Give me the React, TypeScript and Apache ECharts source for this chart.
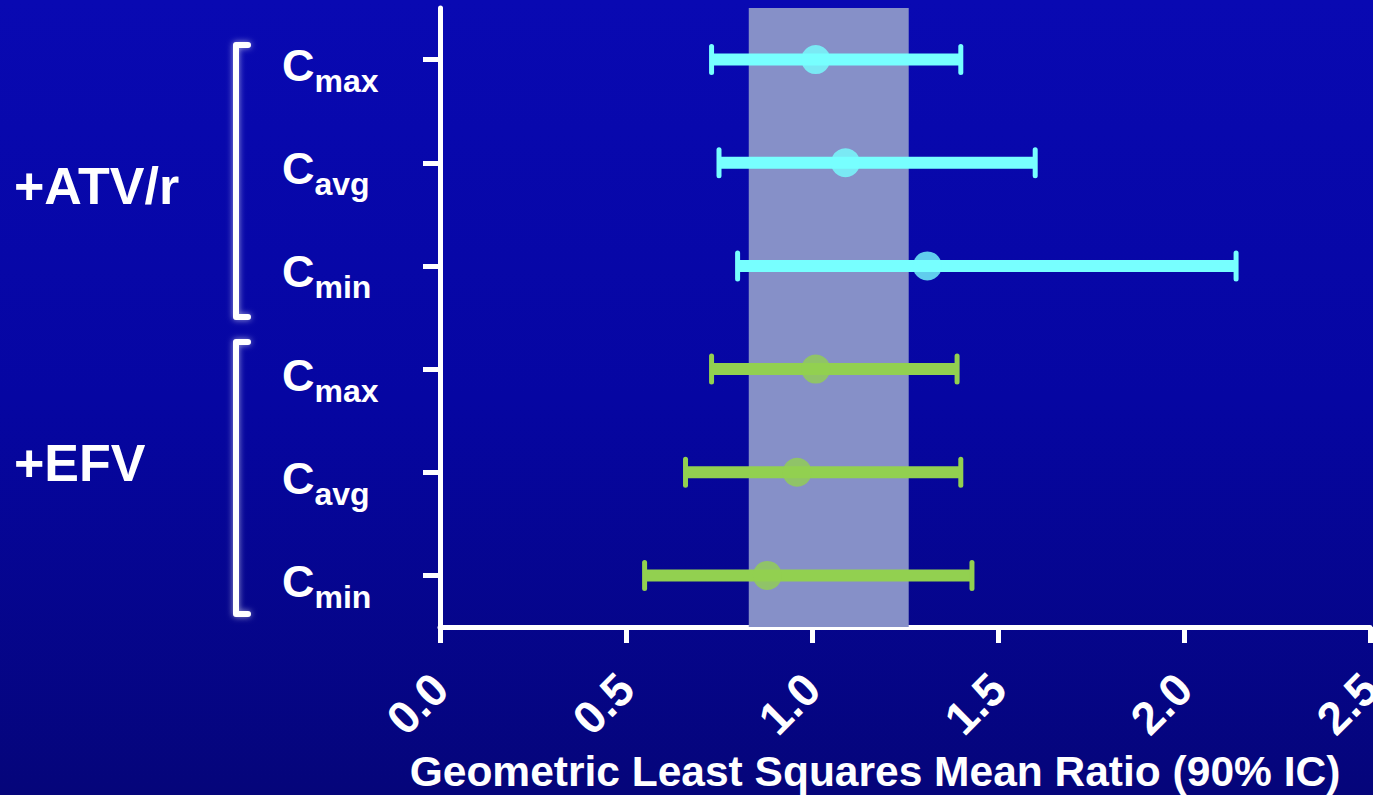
import React, { useEffect, useRef } from "react";
import * as echarts from "echarts";

const categories = ["ATV Cmax", "ATV Cavg", "ATV Cmin", "EFV Cmax", "EFV Cavg", "EFV Cmin"];
const subscripts = ["max", "avg", "min", "max", "avg", "min"];
const groups = ["ATV", "ATV", "ATV", "EFV", "EFV", "EFV"];
const means = [1.01, 1.09, 1.31, 1.01, 0.96, 0.88];
const lows = [0.73, 0.75, 0.8, 0.73, 0.66, 0.55];
const highs = [1.4, 1.6, 2.14, 1.39, 1.4, 1.43];
const xTicks = [0, 0.5, 1.0, 1.5, 2.0, 2.5];
const bandRange = [0.83, 1.26];
const groupLabels = ["+ATV/r", "+EFV"];

const FONT = "'Liberation Sans', Arial, Helvetica, sans-serif";
const groupColor: Record<string, string> = { ATV: "#77ffff", EFV: "#92d050" };

export default function App() {
  const ref = useRef<HTMLDivElement>(null);
  useEffect(() => {
    document.body.style.margin = "0";
    const chart = echarts.init(ref.current!, null, { renderer: "svg" });
    const barData = categories.map((c, i) => [lows[i], highs[i], i]);
    const meanData = categories.map((c, i) => ({
      value: [means[i], i],
      itemStyle: { color: groupColor[groups[i]] },
    }));
    const bracketStyle = {
      stroke: "#ffffff",
      lineWidth: 6,
      fill: null,
      lineJoin: "round",
      lineCap: "round",
      shadowBlur: 6,
      shadowColor: "rgba(255,255,255,0.6)",
    };
    chart.setOption({
      animation: false,
      backgroundColor: "transparent",
      grid: { left: 440, right: 3, top: 8, bottom: 168, containLabel: false, outerBoundsMode: "none" },
      xAxis: {
        type: "value",
        min: xTicks[0],
        max: xTicks[xTicks.length - 1],
        interval: 0.5,
        splitLine: { show: false },
        axisLine: { show: true, lineStyle: { color: "#ffffff", width: 5 } },
        axisTick: { show: true, length: 16, lineStyle: { color: "#ffffff", width: 5 } },
        axisLabel: {
          rotate: 45,
          margin: 54,
          color: "#ffffff",
          fontSize: 46,
          fontWeight: "bold",
          fontFamily: FONT,
          hideOverlap: false,
          formatter: (v: number) => v.toFixed(1),
        },
        name: "Geometric Least Squares Mean Ratio (90% IC)",
        nameLocation: "middle",
        nameGap: 122,
        nameTextStyle: {
          color: "#ffffff",
          fontSize: 42.5,
          fontWeight: "bold",
          fontFamily: FONT,
          padding: [0, 60, 0, 0],
        },
      },
      yAxis: {
        type: "category",
        data: categories,
        inverse: true,
        axisLine: { show: true, lineStyle: { color: "#ffffff", width: 5 } },
        axisTick: { show: true, alignWithLabel: true, length: 17, lineStyle: { color: "#ffffff", width: 5 } },
        splitLine: { show: false },
        axisLabel: {
          align: "left",
          margin: 158,
          formatter: (v: string, i: number) => `{c|C}{s|${subscripts[i]}}`,
          rich: {
            c: {
              fontSize: 45,
              fontWeight: "bold",
              color: "#ffffff",
              fontFamily: FONT,
              padding: [12, 0, 0, 0],
              verticalAlign: "middle",
            },
            s: {
              fontSize: 32,
              fontWeight: "bold",
              color: "#ffffff",
              fontFamily: FONT,
              padding: [43, 0, 0, 0],
              verticalAlign: "middle",
            },
          },
        },
      },
      series: [
        {
          type: "custom",
          z: 3,
          data: barData,
          encode: { x: [0, 1], y: 2 },
          renderItem: (params: any, api: any) => {
            const idx = api.value(2);
            const p0 = api.coord([api.value(0), idx]);
            const p1 = api.coord([api.value(1), idx]);
            const color = groupColor[groups[idx]];
            const capH = 13;
            return {
              type: "group",
              children: [
                {
                  type: "line",
                  shape: { x1: p0[0], y1: p0[1], x2: p1[0], y2: p1[1] },
                  style: { stroke: color, lineWidth: 12 },
                },
                {
                  type: "line",
                  shape: { x1: p0[0], y1: p0[1] - capH, x2: p0[0], y2: p0[1] + capH },
                  style: { stroke: color, lineWidth: 5, lineCap: "round" },
                },
                {
                  type: "line",
                  shape: { x1: p1[0], y1: p1[1] - capH, x2: p1[0], y2: p1[1] + capH },
                  style: { stroke: color, lineWidth: 5, lineCap: "round" },
                },
              ],
            };
          },
          markArea: {
            silent: true,
            itemStyle: { color: "#8690c8", opacity: 1 },
            data: [[{ xAxis: bandRange[0] }, { xAxis: bandRange[1] }]],
          },
        },
        {
          type: "scatter",
          z: 4,
          symbol: "circle",
          symbolSize: 29,
          data: meanData,
        },
      ],
      graphic: [
        {
          type: "text",
          x: 14,
          y: 186,
          style: { text: groupLabels[0], fill: "#ffffff", font: `bold 52px ${FONT}`, align: "left", verticalAlign: "middle" },
        },
        {
          type: "text",
          x: 14,
          y: 463,
          style: { text: groupLabels[1], fill: "#ffffff", font: `bold 52px ${FONT}`, align: "left", verticalAlign: "middle" },
        },
        {
          type: "polyline",
          shape: { points: [[248, 45], [236, 45], [236, 317], [248, 317]] },
          style: bracketStyle,
        },
        {
          type: "polyline",
          shape: { points: [[248, 342], [236, 342], [236, 614], [248, 614]] },
          style: bracketStyle,
        },
      ],
    });
    return () => chart.dispose();
  }, []);
  return (
    <div
      ref={ref}
      style={{
        width: 1373,
        height: 795,
        background: "linear-gradient(180deg, #0909b2 0%, #0606a2 50%, #05057a 100%)",
      }}
    />
  );
}
